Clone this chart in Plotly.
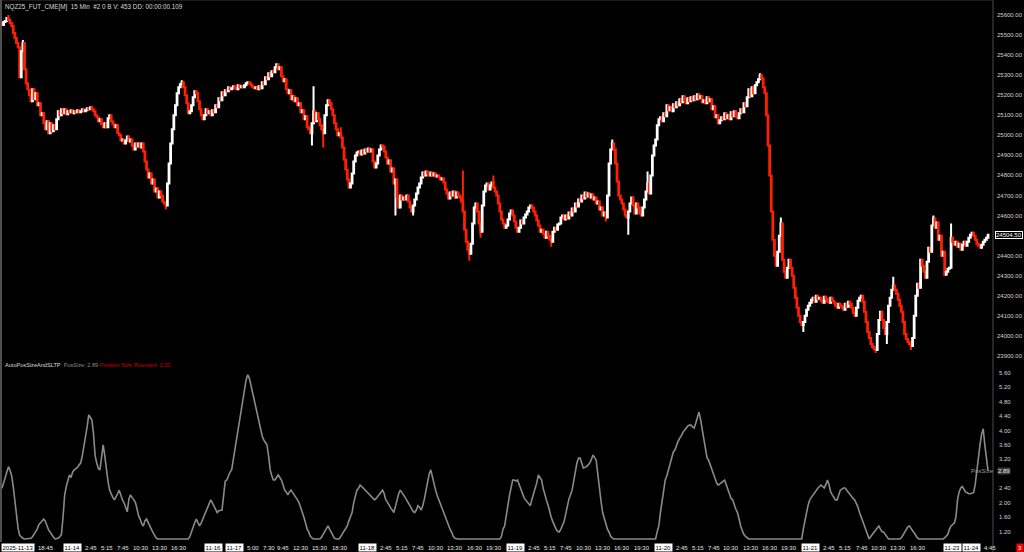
import plotly.graph_objects as go
from datetime import datetime, timedelta

# ---------------- data ----------------
title_text = "NQZ25_FUT_CME[M]  15 Min  #2 0 B V: 453 DD: 00:00:00.109"

session_bounds = [
    ("2025-11-13 12:15", "2025-11-13 21:45"),
    ("2025-11-13 23:00", "2025-11-14 21:45"),
    ("2025-11-16 23:00", "2025-11-17 21:45"),
    ("2025-11-17 23:00", "2025-11-18 21:45"),
    ("2025-11-18 23:00", "2025-11-19 21:45"),
    ("2025-11-19 23:00", "2025-11-20 21:45"),
    ("2025-11-20 23:00", "2025-11-21 21:45"),
    ("2025-11-23 23:00", "2025-11-24 04:45"),
]

closes = [
    25550, 25565, 25570, 25585, 25575, 25560, 25545, 25510, 25485, 25460,
    25440, 25290, 25420, 25460, 25330, 25260, 25230, 25200, 25170, 25230,
    25180, 25210, 25150, 25160, 25100, 25110, 25060, 25030, 25070, 25010,
    25060, 25020, 25050, 25030, 25080, 25120, 25100, 25130, 25110, 25130,
    25105, 25120, 25115, 25125, 25110, 25120, 25115, 25125, 25115, 25120,
    25130, 25120, 25125, 25135, 25130, 25140, 25130, 25120, 25100, 25090,
    25070, 25080, 25055, 25040, 25060, 25040, 25085, 25100, 25070, 25055,
    25040, 25050, 25010, 25000, 24975, 24980, 24960, 24975, 24995, 24970,
    24980, 24950, 24930, 24960, 24945, 24960, 24940, 24960, 24920, 24870,
    24830, 24790, 24810, 24760, 24780, 24720, 24735, 24690, 24720, 24700,
    24670, 24660, 24650, 24760, 24860, 24960, 25030, 25100, 25150, 25210,
    25240, 25255, 25265, 25240, 25200, 25160, 25110, 25120, 25150, 25190,
    25220, 25210, 25170, 25130, 25100, 25080, 25100, 25130, 25110, 25120,
    25100, 25125, 25115, 25150, 25140, 25185, 25175, 25215, 25200, 25225,
    25220, 25240, 25230, 25235, 25245, 25235, 25230, 25250, 25240, 25245,
    25240, 25250, 25260, 25265, 25260, 25250, 25240, 25235, 25240, 25230,
    25245, 25235, 25265, 25255, 25290, 25280, 25310, 25295, 25320, 25315,
    25340, 25355, 25330, 25340, 25295, 25270, 25280, 25230, 25210, 25225,
    25180, 25195, 25170, 25185, 25150, 25160, 25115, 25125, 25080, 25095,
    25040, 25030, 25010, 25060, 25120, 25070, 25110, 25080, 25050, 25030,
    25010, 25100, 25150, 25175, 25160, 25130, 25100, 25060, 25030, 25000,
    25010, 24990, 24940, 24880, 24830, 24780, 24740, 24760, 24810, 24870,
    24900, 24915, 24920, 24905, 24925, 24910, 24930, 24920, 24935, 24920,
    24930, 24870, 24840, 24860, 24900, 24930, 24950, 24945, 24920, 24890,
    24860, 24875, 24820, 24835, 24760, 24780, 24690, 24640, 24700, 24680,
    24690, 24680, 24700, 24670, 24640, 24620, 24650, 24680, 24710, 24740,
    24760, 24790, 24815, 24800, 24820, 24810, 24800, 24815, 24800, 24810,
    24795, 24800, 24790, 24780, 24785, 24765, 24730, 24710, 24685, 24715,
    24700, 24720, 24690, 24715, 24700, 24690, 24670, 24620, 24530, 24470,
    24430, 24410, 24460, 24560, 24640, 24660, 24620, 24560, 24520, 24650,
    24720, 24750, 24760, 24730, 24750, 24765, 24740, 24720, 24700, 24660,
    24620, 24580, 24560, 24540, 24550, 24580, 24610, 24625, 24600, 24570,
    24540, 24520, 24540, 24575, 24560, 24590, 24605, 24620, 24640, 24650,
    24640, 24620, 24600, 24575, 24550, 24520, 24530, 24510, 24490, 24520,
    24500, 24480, 24470, 24520, 24540, 24530, 24555, 24560, 24590, 24600,
    24580, 24600, 24585, 24615, 24600, 24635, 24620, 24660, 24645, 24680,
    24670, 24700, 24685, 24715, 24695, 24710, 24690, 24705, 24680, 24690,
    24660, 24670, 24630, 24640, 24600, 24615, 24590, 24700, 24860, 24930,
    24960, 24930, 24860, 24770, 24700, 24680, 24660, 24630, 24600, 24590,
    24620, 24660, 24690, 24650, 24610, 24660, 24640, 24610, 24600, 24640,
    24680, 24720, 24760, 24710, 24800, 24900, 24950, 24980, 25050, 25080,
    25090, 25070, 25110, 25095, 25150, 25125, 25140, 25120, 25155, 25140,
    25165, 25150, 25180, 25165, 25195, 25175, 25160, 25185, 25170, 25190,
    25175, 25195, 25180, 25205, 25185, 25195, 25165, 25175, 25160, 25190,
    25170, 25180, 25130, 25145, 25090, 25100, 25060, 25075, 25090, 25080,
    25110, 25085, 25100, 25080, 25115, 25095, 25120, 25095, 25085, 25110,
    25130, 25115, 25160, 25145, 25190, 25230, 25195, 25240, 25210, 25250,
    25265, 25280, 25300, 25285, 25240, 25210, 25100, 24950, 24800, 24620,
    24480, 24400, 24350, 24420, 24500, 24560, 24380, 24320, 24290, 24340,
    24380, 24340, 24300, 24240, 24190, 24140, 24100, 24070, 24055, 24070,
    24100, 24130, 24150, 24165, 24180, 24190, 24170, 24200, 24185, 24190,
    24175, 24165, 24195, 24185, 24170, 24165, 24190, 24175, 24165, 24150,
    24140, 24160, 24150, 24140, 24130, 24160, 24145, 24170, 24160, 24140,
    24115, 24100, 24140, 24175, 24190, 24200, 24170, 24120, 24070, 24020,
    23990, 23960, 23945, 23935, 23930, 24010, 24080, 24120, 24080, 24040,
    24010, 24070, 24150, 24190, 24230, 24250, 24230, 24210, 24180, 24150,
    24120, 24070, 24010, 23985, 23970, 23960, 23950, 23990, 24100, 24200,
    24260, 24240, 24380, 24350, 24320, 24290, 24370, 24440, 24420, 24550,
    24585, 24540, 24565, 24480, 24500, 24400, 24420, 24305, 24320, 24335,
    24340, 24490, 24470, 24455, 24470, 24445, 24460, 24430, 24455, 24470,
    24450, 24470, 24490, 24505, 24515, 24500, 24480, 24460, 24450, 24440,
    24455, 24470, 24480, 24490, 24504.5,
]
first_open = 25560

# wick extremes (bar index -> price)
spike_highs = {4: 25600, 13: 25475, 112: 25275, 194: 25245, 211: 25040, 287: 24825,
               306: 24800, 380: 24980, 402: 24820, 472: 25310, 485: 24590,
               555: 24295, 580: 24600, 591: 24560}
spike_lows = {102: 24630, 193: 24950, 200: 24940, 245: 24600, 256: 24600, 291: 24375,
              298: 24490, 342: 24445, 376: 24570, 390: 24505, 499: 24020, 544: 23915,
              551: 23960, 566: 23930}

pos_size = [
    2.40, 2.55, 2.70, 2.85, 3.00, 2.90, 2.75, 2.45, 2.10, 1.60,
    1.30, 1.10, 1.05, 1.02, 1.00, 1.00, 1.00, 1.00, 1.02, 1.06,
    1.12, 1.20, 1.28, 1.40, 1.45, 1.50, 1.55, 1.48, 1.36, 1.25,
    1.19, 1.10, 1.05, 1.00, 1.00, 1.02, 1.06, 1.12, 1.60, 2.20,
    2.45, 2.60, 2.77, 2.70, 2.85, 2.91, 2.95, 2.98, 3.05, 3.10,
    3.30, 3.55, 3.80, 4.10, 4.43, 4.35, 4.29, 3.90, 3.30, 3.10,
    2.95, 2.91, 3.30, 3.60, 3.30, 2.91, 2.60, 2.35, 2.22, 2.15,
    2.08, 2.15, 2.25, 2.35, 2.20, 2.08, 2.00, 1.85, 1.75, 2.10,
    2.22, 2.15, 2.08, 2.02, 1.85, 1.65, 1.55, 1.42, 1.36, 1.50,
    1.55, 1.44, 1.36, 1.27, 1.18, 1.08, 1.03, 1.00, 1.00, 1.00,
    1.00, 1.00, 1.00, 1.00, 1.00, 1.00, 1.00, 1.00, 1.00, 1.00,
    1.00, 1.00, 1.00, 1.00, 1.00, 1.00, 1.00, 1.07, 1.20, 1.36,
    1.45, 1.55, 1.45, 1.36, 1.44, 1.55, 1.62, 1.73, 1.85, 2.00,
    2.08, 2.00, 1.92, 1.85, 1.73, 1.78, 1.80, 1.80, 2.20, 2.60,
    2.63, 2.75, 2.85, 2.91, 3.20, 3.50, 3.74, 4.00, 4.29, 4.60,
    4.84, 5.10, 5.40, 5.54, 5.45, 5.26, 5.05, 4.84, 4.60, 4.43,
    4.20, 4.01, 3.85, 3.74, 3.66, 3.60, 3.30, 2.91, 2.75, 2.63,
    2.63, 2.70, 2.77, 2.70, 2.63, 2.50, 2.35, 2.30, 2.22, 2.30,
    2.35, 2.28, 2.22, 2.15, 2.08, 2.00, 1.88, 1.73, 1.60, 1.44,
    1.27, 1.19, 1.07, 1.03, 1.00, 1.00, 1.00, 1.00, 1.00, 1.05,
    1.12, 1.19, 1.27, 1.36, 1.27, 1.19, 1.07, 1.02, 1.00, 1.00,
    1.00, 1.07, 1.15, 1.23, 1.30, 1.36, 1.50, 1.62, 1.73, 2.00,
    2.20, 2.35, 2.40, 2.49, 2.45, 2.40, 2.35, 2.30, 2.25, 2.22,
    2.18, 2.12, 2.08, 2.12, 2.18, 2.22, 2.30, 2.35, 2.25, 2.08,
    2.02, 1.92, 1.86, 1.80, 1.73, 1.90, 2.08, 2.25, 2.35, 2.30,
    2.22, 2.15, 2.08, 2.02, 1.92, 1.84, 1.76, 1.73, 1.80, 1.92,
    1.88, 1.80, 1.92, 2.10, 2.35, 2.63, 2.80, 2.91, 2.70, 2.50,
    2.35, 2.20, 2.08, 1.96, 1.86, 1.73, 1.60, 1.50, 1.36, 1.27,
    1.19, 1.07, 1.02, 1.00, 1.00, 1.00, 1.00, 1.00, 1.00, 1.00,
    1.00, 1.00, 1.00, 1.00, 1.00, 1.00, 1.00, 1.00, 1.00, 1.00,
    1.00, 1.00, 1.00, 1.00, 1.00, 1.00, 1.00, 1.00, 1.00, 1.00,
    1.00, 1.07, 1.27, 1.36, 1.60, 1.92, 2.20, 2.45, 2.63, 2.63,
    2.60, 2.63, 2.50, 2.35, 2.25, 2.15, 2.08, 2.02, 1.96, 1.92,
    2.10, 2.25, 2.35, 2.55, 2.77, 2.70, 2.63, 2.40, 2.20, 2.08,
    1.94, 1.73, 1.60, 1.48, 1.36, 1.27, 1.21, 1.19, 1.27, 1.36,
    1.48, 1.68, 1.92, 2.10, 2.22, 2.35, 2.60, 2.91, 3.10, 3.24,
    3.24, 3.10, 2.96, 2.98, 3.00, 3.05, 3.10, 3.20, 3.32, 3.25,
    3.18, 2.80, 2.35, 2.05, 1.73, 1.55, 1.40, 1.27, 1.19, 1.07,
    1.03, 1.00, 1.00, 1.00, 1.00, 1.00, 1.00, 1.00, 1.00, 1.00,
    1.00, 1.00, 1.00, 1.00, 1.00, 1.00, 1.00, 1.00, 1.00, 1.00,
    1.00, 1.00, 1.00, 1.00, 1.00, 1.00, 1.00, 1.00, 1.20, 1.36,
    1.73, 2.08, 2.35, 2.63, 2.75, 2.91, 3.10, 3.25, 3.40, 3.46,
    3.60, 3.70, 3.79, 3.85, 3.95, 4.01, 4.08, 4.12, 4.15, 4.15,
    4.10, 4.07, 4.20, 4.40, 4.51, 4.30, 4.01, 3.70, 3.46, 3.25,
    3.18, 3.05, 2.91, 2.80, 2.63, 2.55, 2.49, 2.52, 2.55, 2.60,
    2.63, 2.50, 2.35, 2.25, 2.12, 2.08, 1.94, 1.82, 1.73, 1.50,
    1.36, 1.23, 1.12, 1.07, 1.03, 1.00, 1.00, 1.00, 1.00, 1.00,
    1.00, 1.00, 1.00, 1.00, 1.00, 1.00, 1.00, 1.00, 1.00, 1.00,
    1.00, 1.00, 1.00, 1.00, 1.00, 1.00, 1.00, 1.00, 1.00, 1.00,
    1.00, 1.00, 1.00, 1.00, 1.00, 1.00, 1.00, 1.00, 1.00, 1.27,
    1.55, 1.73, 1.94, 2.08, 2.15, 2.22, 2.28, 2.35, 2.40, 2.45,
    2.49, 2.45, 2.41, 2.50, 2.63, 2.50, 2.30, 2.22, 2.15, 2.08,
    2.08, 2.20, 2.35, 2.38, 2.41, 2.41, 2.35, 2.28, 2.22, 2.18,
    2.12, 2.08, 2.00, 1.88, 1.73, 1.60, 1.48, 1.36, 1.20, 1.07,
    1.00, 1.07, 1.13, 1.19, 1.27, 1.33, 1.36, 1.27, 1.20, 1.19,
    1.13, 1.07, 1.00, 1.00, 1.00, 1.00, 1.00, 1.00, 1.00, 1.00,
    1.03, 1.10, 1.19, 1.27, 1.33, 1.36, 1.30, 1.24, 1.19, 1.10,
    1.03, 1.00, 1.00, 1.00, 1.00, 1.00, 1.00, 1.00, 1.00, 1.00,
    1.00, 1.00, 1.00, 1.00, 1.00, 1.00, 1.00, 1.03, 1.07, 1.13,
    1.27, 1.36, 1.40, 1.44, 1.60, 2.08, 2.30, 2.41, 2.45, 2.35,
    2.30, 2.28, 2.25, 2.25, 2.27, 2.28, 2.50, 2.90, 3.20, 3.60,
    3.90, 4.05, 3.60, 3.20, 2.89,
]
pos_size_last = 2.89
pos_size_rounded = 2.00

price_ticks = [23900, 24000, 24100, 24200, 24300, 24400, 24600, 24700, 24800, 24900,
               25000, 25100, 25200, 25300, 25400, 25500, 25600]
pos_ticks = [1.2, 1.6, 2.0, 2.4, 3.2, 3.6, 4.0, 4.4, 4.8, 5.2, 5.6]

tick_stamps = [
    "2025-11-13 12:15", "2025-11-13 18:45",
    "2025-11-14 00:00", "2025-11-14 02:45", "2025-11-14 05:15", "2025-11-14 07:45",
    "2025-11-14 10:30", "2025-11-14 13:30", "2025-11-14 16:30",
    "2025-11-16 23:00",
    "2025-11-17 00:00", "2025-11-17 05:00", "2025-11-17 07:30", "2025-11-17 09:45",
    "2025-11-17 12:30", "2025-11-17 15:30", "2025-11-17 18:30",
    "2025-11-18 00:00", "2025-11-18 02:45", "2025-11-18 05:15", "2025-11-18 07:45",
    "2025-11-18 10:30", "2025-11-18 13:30", "2025-11-18 16:30", "2025-11-18 19:30",
    "2025-11-19 00:00", "2025-11-19 02:45", "2025-11-19 05:15", "2025-11-19 07:45",
    "2025-11-19 10:30", "2025-11-19 13:30", "2025-11-19 16:30", "2025-11-19 19:30",
    "2025-11-20 00:00", "2025-11-20 02:45", "2025-11-20 05:15", "2025-11-20 07:45",
    "2025-11-20 10:30", "2025-11-20 13:30", "2025-11-20 16:30", "2025-11-20 19:30",
    "2025-11-21 00:00", "2025-11-21 02:45", "2025-11-21 05:15", "2025-11-21 07:45",
    "2025-11-21 10:30", "2025-11-21 13:30", "2025-11-21 16:30",
    "2025-11-23 23:00", "2025-11-24 00:00", "2025-11-24 04:45",
]
# boxes pushed right to avoid overlapping the neighbouring box
box_nudge = {"2025-11-17 00:00": 15, "2025-11-24 00:00": 13}

# ---------------- build ----------------
fmt = "%Y-%m-%d %H:%M"
times = []
for s, e in session_bounds:
    t = datetime.strptime(s, fmt)
    end = datetime.strptime(e, fmt)
    while t <= end:
        times.append(t)
        t += timedelta(minutes=15)

n = min(len(times), len(closes), len(pos_size))
times = times[:n]
closes = closes[:n]
pos_size = pos_size[:n]
idx = list(range(n))

opens = [first_open] + closes[:-1]
highs = [max(o, c) for o, c in zip(opens, closes)]
lows = [min(o, c) for o, c in zip(opens, closes)]
for k, v in spike_highs.items():
    if k < n:
        highs[k] = max(highs[k], v)
for k, v in spike_lows.items():
    if k < n:
        lows[k] = min(lows[k], v)

W, H = 1024, 552
ML, MR, MT, MB = 1, 31, 0, 10
plot_w = W - ML - MR
plot_h = H - MT - MB
split_px = 362
top_dom = [1 - split_px / plot_h, 1]
bot_dom = [0, 1 - split_px / plot_h]

px_per_bar = 1.6059
x0 = -1.0 / px_per_bar
x1 = x0 + plot_w / px_per_bar

FONT = "Liberation Sans"
AX_COL = "#d2d2d2"
RED = "#ff2000"
FS = 6

fig = go.Figure()
fig.add_trace(go.Candlestick(
    x=idx, open=opens, high=highs, low=lows, close=closes,
    increasing=dict(line=dict(color="#ffffff", width=2), fillcolor="#ffffff"),
    decreasing=dict(line=dict(color=RED, width=2), fillcolor=RED),
    whiskerwidth=0, showlegend=False, hoverinfo="skip", yaxis="y", xaxis="x",
))
fig.add_trace(go.Scatter(
    x=idx, y=pos_size, mode="lines", line=dict(color="#8a8a8a", width=1.6),
    showlegend=False, hoverinfo="skip", yaxis="y2", xaxis="x",
))

annotations = []
# y tick labels (right side)
for v in price_ticks:
    annotations.append(dict(text=f"{v:.2f}", xref="paper", yref="y", x=1, y=v,
                            xanchor="left", yanchor="middle", xshift=2, showarrow=False,
                            font=dict(family=FONT, size=FS, color=AX_COL)))
for v in pos_ticks:
    annotations.append(dict(text=f"{v:.2f}", xref="paper", yref="y2", x=1, y=v,
                            xanchor="left", yanchor="middle", xshift=4, showarrow=False,
                            font=dict(family=FONT, size=FS, color=AX_COL)))
# header
annotations.append(dict(text=title_text, xref="paper", yref="paper", x=0, y=1,
                        xanchor="left", yanchor="top", xshift=2, yshift=-1, showarrow=False,
                        font=dict(family=FONT, size=6.3, color="#d8d8d8")))
# indicator title
ind_text = ("AutoPosSizeAndSLTP&nbsp;&nbsp;"
            f"<span style='color:#8a8a8a'>PosSize: {pos_size_last:.2f}</span>&nbsp;"
            f"<span style='color:#d00000'>Position Size Rounded: {pos_size_rounded:.2f}</span>")
annotations.append(dict(text=ind_text, xref="paper", yref="paper", x=0, y=bot_dom[1],
                        xanchor="left", yanchor="middle", xshift=2, yshift=-3, showarrow=False,
                        font=dict(family=FONT, size=5.6, color="#d8d8d8")))
# PosSize tag near line end
annotations.append(dict(text="PosSize", xref="x", yref="y2", x=idx[-1] - 3.5, y=pos_size_last,
                        xanchor="center", yanchor="middle", showarrow=False,
                        font=dict(family=FONT, size=FS, color="#9a9a9a")))
# current price tag on axis
annotations.append(dict(text=f"{closes[-1]:.2f}", xref="paper", yref="y", x=1, y=closes[-1],
                        xanchor="left", yanchor="middle", xshift=2, showarrow=False,
                        bgcolor="#000000", bordercolor="#ffffff", borderwidth=1, borderpad=0,
                        font=dict(family=FONT, size=FS, color="#ffffff")))
# current PosSize tag on axis
annotations.append(dict(text=f"{pos_size_last:.2f}", xref="paper", yref="y2", x=1, y=pos_size_last,
                        xanchor="left", yanchor="middle", xshift=4, showarrow=False,
                        bgcolor="#3a3a3a", borderpad=0,
                        font=dict(family=FONT, size=FS, color="#e0e0e0")))

# x tick labels
time_index = {t.strftime(fmt): i for i, t in enumerate(times)}
label_y = -5.5 / plot_h
for s in tick_stamps:
    if s not in time_index:
        continue
    i = time_index[s]
    t = times[i]
    new_day = (i == 0) or (times[i - 1].date() != t.date())
    if i == 0:
        annotations.append(dict(text=t.strftime("%Y-%m-%d"), xref="x", yref="paper", x=i, y=label_y,
                                xanchor="left", yanchor="middle", showarrow=False, xshift=-1,
                                bgcolor="#ffffff", borderpad=0.5,
                                font=dict(family=FONT, size=FS, color="#000000")))
    elif new_day:
        annotations.append(dict(text=t.strftime("%m-%d"), xref="x", yref="paper", x=i, y=label_y,
                                xanchor="center", yanchor="middle", showarrow=False,
                                xshift=1 + box_nudge.get(s, 0),
                                bgcolor="#ffffff", borderpad=0.5,
                                font=dict(family=FONT, size=FS, color="#000000")))
    else:
        annotations.append(dict(text=f"{t.hour}:{t.minute:02d}", xref="x", yref="paper", x=i, y=label_y,
                                xanchor="center", yanchor="middle", showarrow=False, xshift=2,
                                font=dict(family=FONT, size=FS, color="#e6e6e6")))
# red corner box
annotations.append(dict(text="3", xref="paper", yref="paper", x=1, y=label_y,
                        xanchor="left", yanchor="middle", xshift=23, showarrow=False,
                        bgcolor="#ff0000", borderpad=1,
                        font=dict(family=FONT, size=FS, color="#ffffff")))

shapes = [
    dict(type="line", xref="paper", yref="paper", x0=0, x1=0, y0=0, y1=1,
         line=dict(color="#6a6a6a", width=1.5)),
    dict(type="line", xref="paper", yref="paper", x0=1, x1=1, y0=-MB / plot_h, y1=1,
         line=dict(color="#4a4a4a", width=1)),
    dict(type="line", xref="paper", yref="paper", x0=0, x1=1, y0=1, y1=1,
         line=dict(color="#3a3a3a", width=1)),
]

fig.update_layout(
    width=W, height=H,
    margin=dict(l=ML, r=MR, t=MT, b=MB),
    paper_bgcolor="#000000", plot_bgcolor="#000000",
    font=dict(family=FONT, size=FS, color=AX_COL),
    showlegend=False,
    xaxis=dict(range=[x0, x1], showgrid=False, zeroline=False, showticklabels=False,
               rangeslider=dict(visible=False), anchor="y2", showline=False, fixedrange=True),
    yaxis=dict(domain=top_dom, range=[23870, 25675], side="right", anchor="x",
               showticklabels=False, showgrid=False, zeroline=False, showline=False, ticks=""),
    yaxis2=dict(domain=bot_dom, range=[0.915, 5.896], side="right", anchor="x",
                showticklabels=False, showgrid=False, zeroline=False, showline=False, ticks=""),
    annotations=annotations,
    shapes=shapes,
)

fig.write_html("out.html", config={"displayModeBar": False},
               post_script="document.body.style.margin='0';document.body.style.background='#000';")
